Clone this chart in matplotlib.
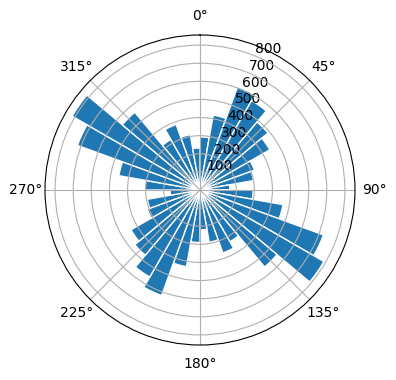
import matplotlib
matplotlib.use("Agg")
import matplotlib.pyplot as plt
import numpy as np

# bin centres (degrees, clockwise from north) and counts
directions = np.arange(5, 360, 10)
counts = [293, 420, 605, 570, 490, 445, 320, 300, 165,
          293, 465, 725, 790, 555, 330, 370, 293, 220,
          290, 430, 620, 555, 470, 440, 310, 295, 165,
          305, 455, 720, 815, 560, 322, 385, 310, 232]

fig = plt.figure(figsize=(3.96, 3.80), dpi=100)
ax = fig.add_axes([45 / 396, 35 / 380, 310 / 396, 310 / 380], projection='polar')
ax.set_theta_zero_location('N')
ax.set_theta_direction(-1)

theta = np.radians(directions)
ax.bar(theta, counts, width=np.radians(10), bottom=0.0,
       color='#1f77b4', edgecolor='white', linewidth=1)

fig.savefig('out.png', dpi=100)
